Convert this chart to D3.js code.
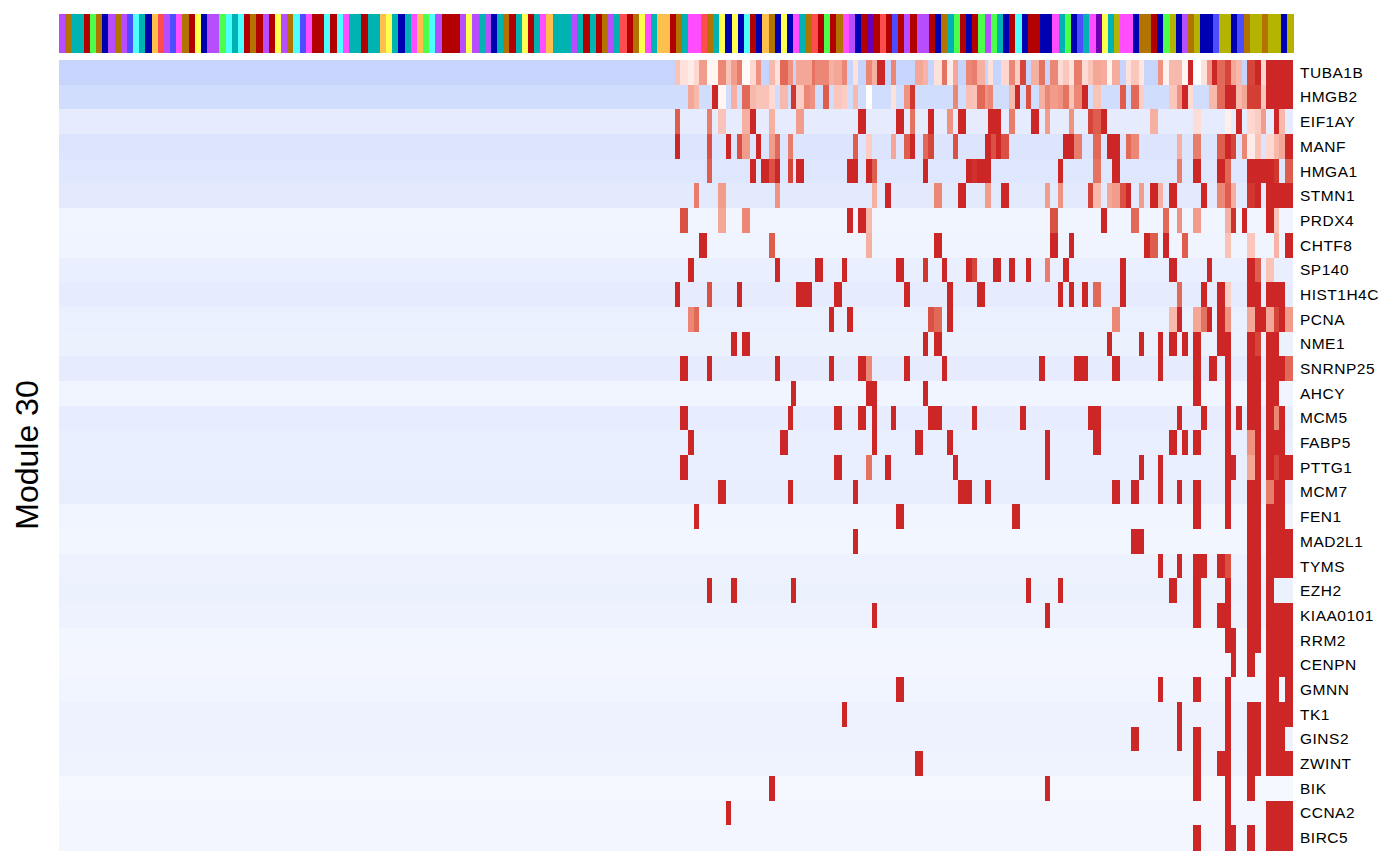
<!DOCTYPE html>
<html>
<head>
<meta charset="utf-8">
<script src="https://cdn.jsdelivr.net/npm/d3@7/dist/d3.min.js"></script>
<style>
body { margin: 0; background: #fff; }
text { font-family: "Liberation Sans", Arial, sans-serif; fill: #000; }
rect { shape-rendering: crispEdges; }
</style>
</head>
<body>
<svg width="1400" height="865"></svg>
<script>
var genes = ["TUBA1B","HMGB2","EIF1AY","MANF","HMGA1","STMN1","PRDX4","CHTF8","SP140","HIST1H4C","PCNA","NME1","SNRNP25","AHCY","MCM5","FABP5","PTTG1","MCM7","FEN1","MAD2L1","TYMS","EZH2","KIAA0101","RRM2","CENPN","GMNN","TK1","GINS2","ZWINT","BIK","CCNA2","BIRC5"];

// level of the quiet cells in each row
var baseLevel = [-.22,-.18,-.1,-.135,-.125,-.11,-.055,-.06,-.085,-.1,-.08,-.075,-.1,-.055,-.095,-.085,-.085,-.09,-.055,-.05,-.07,-.075,-.07,-.05,-.045,-.055,-.07,-.07,-.065,-.035,-.045,-.045];

// runs of samples per gene: [first sample, end sample, level]
var TUBA1B = [[228,230,.3],[230,233,.15],[233,235,.1],[235,237,.2],[237,240,.5],[240,244,.05],[244,247,.6],[247,249,.3],[249,251,.5],[251,253,.65],[253,256,.03],[256,258,.2],[258,260,.55],[263,265,.35],[265,267,.15],[267,270,.75],[270,272,.55],[273,279,.45],[279,280,.7],[280,285,.6],[285,287,.4],[287,290,.45],[290,292,.6],[294,296,.15],[299,301,.6],[301,303,.4],[303,306,1],[308,310,.6],[317,320,.45],[320,322,.38],[324,327,.15],[327,329,.7],[329,331,.1],[331,333,.45],[336,338,.6],[338,340,.65],[340,343,.4],[344,346,.15],[349,352,.2],[352,354,.6],[354,356,.25],[356,358,.9],[360,363,.4],[363,365,.7],[367,370,.6],[370,372,.18],[372,374,.28],[374,376,.15],[376,379,.65],[379,381,.18],[381,383,.3],[383,386,.45],[386,388,.42],[388,390,.06],[390,393,.42],[395,397,.15],[397,400,.28],[400,402,.12],[407,409,.55],[409,411,.07],[411,416,.35],[416,418,.05],[418,420,1],[420,423,0],[423,425,.15],[425,427,.55],[427,429,1],[429,432,.75],[432,434,.9],[434,436,.45],[436,438,.35],[440,443,.9],[443,445,1],[445,447,.2],[447,457,1]];
var HMGB2 = [[233,235,.45],[235,237,.35],[242,244,1],[244,247,.05],[249,251,.4],[253,256,.75],[256,258,.35],[258,263,.3],[263,265,.18],[267,270,.35],[271,273,.95],[273,276,.25],[276,278,.6],[278,280,.55],[283,285,.8],[287,290,.28],[290,292,.25],[294,296,.35],[299,301,0],[308,310,.15],[313,315,.55],[315,317,.95],[331,333,.6],[336,338,.32],[338,340,.3],[340,343,.75],[343,344,.55],[344,346,.6],[352,354,.35],[354,356,1],[358,360,.85],[363,365,.4],[365,367,.6],[367,370,.5],[370,372,.55],[372,374,.7],[374,376,.3],[376,379,.6],[379,381,1],[383,386,.3],[393,395,.8],[397,400,.75],[400,402,.25],[411,414,.28],[414,416,.55],[416,418,1],[418,420,.18],[426,429,.35],[429,432,.75],[432,436,1],[436,438,.35],[438,440,.45],[440,445,.92],[445,447,.28],[447,457,1]];
var EIF1AY = [[228,230,.8],[240,242,.65],[244,247,.3],[253,256,.4],[256,258,1],[263,265,.4],[273,276,.5],[296,299,1],[310,313,1],[315,317,.7],[322,324,1],[329,331,.55],[333,336,1],[344,349,1],[352,354,.65],[360,363,1],[365,367,.5],[374,376,.55],[381,383,.9],[383,386,.8],[386,388,1],[404,407,.4],[420,423,.17],[432,434,.08],[436,438,1],[440,443,.2],[443,445,.25],[445,447,.5],[450,452,1],[452,454,.35]];
var MANF = [[228,230,1],[240,242,.85],[247,249,1],[251,253,.85],[253,256,.5],[258,260,1],[263,265,.5],[265,267,.75],[270,272,.65],[294,296,.8],[299,301,.25],[308,310,.45],[313,315,.8],[315,317,1],[320,322,.75],[322,324,.9],[331,333,.85],[343,345,1],[345,347,.85],[347,349,1],[349,352,.85],[372,376,1],[376,379,.65],[383,386,.75],[388,393,1],[395,397,.75],[397,400,.6],[414,416,.4],[420,423,.65],[429,432,.8],[432,434,1],[434,436,.9],[438,440,.6],[440,443,.1],[443,445,.3],[447,450,.2],[450,452,.35],[452,454,.45],[454,457,1]];
var HMGA1 = [[240,242,.8],[256,258,1],[260,263,1],[263,265,.85],[265,267,1],[270,272,.9],[273,276,1],[292,296,1],[299,301,1],[301,303,.8],[320,322,1],[336,338,1],[338,340,.97],[340,345,1],[370,372,1],[383,386,.7],[390,393,1],[414,416,.65],[420,423,1],[429,432,1],[432,434,.75],[440,450,1],[450,452,.95],[454,457,.8]];
var STMN1 = [[235,237,.65],[244,247,.5],[265,267,.55],[301,303,.4],[306,308,1],[324,327,.6],[333,336,1],[343,345,.5],[349,352,1],[365,367,.5],[370,372,.55],[381,383,.9],[383,386,.35],[388,390,.45],[390,393,.5],[393,395,.85],[395,397,1],[400,402,.5],[404,407,1],[407,409,.4],[411,414,1],[423,425,1],[429,432,.6],[432,434,.8],[434,436,.4],[440,443,.95],[443,445,1],[447,457,1]];
var PRDX4 = [[230,233,.85],[244,247,.45],[253,256,.6],[292,294,1],[296,299,1],[299,301,.35],[367,370,.85],[386,388,1],[397,400,.75],[409,411,.75],[414,416,.55],[420,423,.5],[432,434,.4],[434,436,.97],[438,440,1],[447,450,1],[450,452,.3]];
var CHTF8 = [[237,240,1],[263,265,.8],[299,301,.4],[324,327,1],[367,370,1],[374,376,1],[402,404,1],[404,407,.8],[409,411,1],[416,418,.8],[432,434,.3],[440,443,.28],[450,452,.38],[454,457,1]];
var SP140 = [[233,235,1],[265,267,1],[280,283,1],[290,292,1],[310,313,1],[320,322,.95],[327,329,1],[336,338,1],[338,340,.9],[346,349,1],[352,354,1],[358,360,1],[365,367,.65],[372,374,1],[393,395,1],[411,414,1],[425,427,1],[440,443,1],[443,445,.8],[447,450,.3]];
var HIST1H4C = [[228,230,1],[240,242,.85],[251,253,1],[273,279,1],[287,290,1],[313,315,1],[329,331,1],[340,343,1],[370,372,1],[374,376,1],[379,381,1],[383,386,.75],[393,395,1],[414,416,.75],[423,425,1],[429,432,1],[432,434,.25],[440,445,1],[447,454,1]];
var PCNA = [[233,235,.6],[235,237,.75],[285,287,1],[292,294,1],[322,324,.85],[324,327,.75],[329,331,1],[390,393,.6],[411,414,.35],[414,416,1],[420,423,.45],[423,425,.7],[425,427,1],[429,432,1],[432,434,.55],[440,443,.45],[443,447,1],[447,450,.45],[450,452,.9],[452,454,1],[454,457,.5]];
var NME1 = [[249,251,1],[253,256,1],[320,322,1],[324,327,1],[388,390,1],[400,402,1],[407,409,1],[411,414,1],[416,418,1],[420,423,1],[429,434,1],[440,443,1],[443,445,.9],[447,452,1]];
var SNRNP25 = [[230,233,1],[240,242,1],[265,267,1],[285,287,1],[296,299,1],[299,301,.6],[313,315,1],[327,329,1],[363,365,1],[376,381,1],[390,393,1],[407,409,1],[420,423,1],[426,429,1],[432,434,1],[440,445,1],[447,454,1],[454,457,.75]];
var AHCY = [[271,273,1],[299,303,1],[320,322,1],[420,423,1],[432,434,1],[440,445,1],[447,452,1]];
var MCM5 = [[230,233,1],[270,272,1],[287,290,1],[296,299,1],[301,303,1],[308,310,1],[322,327,1],[338,340,1],[356,358,1],[381,386,1],[414,416,1],[423,425,1],[432,434,1],[436,438,1],[440,445,1],[447,450,1],[450,452,.6],[452,454,1]];
var FABP5 = [[233,235,1],[267,270,1],[301,303,1],[317,320,1],[329,331,1],[365,367,1],[383,386,1],[411,414,1],[416,418,1],[420,423,1],[432,434,1],[440,443,.55],[443,445,1],[447,454,1]];
var PTTG1 = [[230,233,1],[287,290,1],[299,301,.7],[306,308,1],[331,333,1],[365,367,1],[400,402,1],[407,409,1],[432,436,1],[440,443,.45],[443,445,1],[447,450,1],[450,452,.9],[452,457,1]];
var MCM7 = [[244,247,1],[270,272,1],[294,296,1],[333,338,1],[343,345,1],[390,393,1],[397,400,1],[407,409,1],[414,416,1],[420,423,1],[432,434,1],[440,445,1],[447,450,.65],[450,454,1]];
var FEN1 = [[235,237,1],[310,313,1],[353,356,1],[420,423,1],[432,434,1],[440,445,1],[447,454,1]];
var MAD2L1 = [[294,296,1],[397,402,1],[440,445,1],[447,457,1]];
var TYMS = [[407,409,1],[414,416,1],[420,425,1],[429,432,1],[432,434,.85],[440,445,1],[447,457,1]];
var EZH2 = [[240,242,1],[249,251,1],[271,273,1],[358,360,1],[370,372,1],[411,414,1],[420,423,1],[432,434,1],[440,445,1],[447,450,1]];
var KIAA0101 = [[301,303,1],[365,367,1],[420,423,1],[429,434,1],[440,445,1],[447,457,1]];
var RRM2 = [[432,436,1],[440,445,1],[447,457,1]];
var CENPN = [[434,436,1],[440,443,1],[447,457,1]];
var GMNN = [[310,313,1],[407,409,1],[420,423,1],[432,434,1],[447,452,1],[454,457,1]];
var TK1 = [[290,292,1],[414,416,1],[432,434,1],[440,445,1],[447,457,1]];
var GINS2 = [[397,400,1],[414,416,1],[420,423,1],[432,434,1],[440,445,1],[447,454,1]];
var ZWINT = [[317,320,1],[420,423,1],[429,434,1],[440,445,1],[447,457,1]];
var BIK = [[263,265,1],[365,367,1],[420,423,1],[432,434,1],[440,443,1]];
var CCNA2 = [[247,249,1],[432,434,1],[447,457,1]];
var BIRC5 = [[420,423,1],[432,436,1],[440,443,1],[447,457,1]];

var geneRuns = [TUBA1B,HMGB2,EIF1AY,MANF,HMGA1,STMN1,PRDX4,CHTF8,SP140,HIST1H4C,PCNA,NME1,SNRNP25,AHCY,MCM5,FABP5,PTTG1,MCM7,FEN1,MAD2L1,TYMS,EZH2,KIAA0101,RRM2,CENPN,GMNN,TK1,GINS2,ZWINT,BIK,CCNA2,BIRC5];
var sampleCount = 457;

// top annotation, one group per bin
var topGroups = ("p b t t r g b n p b p u c t n o s p u m b r y n p p g c t c r b r p r y p b c u m r r c r c m t t r t " +
  "t o y t n t m o g c p r r r p y p t p n t b r t y r t m o t t t p t r t r b p t s r b y m t o o r b t " +
  "m m s b t y n y n c r n o b n y n m t b s r g r b m p n r v r s r u r p r p p r n b t g r n r g p " +
  "g t n r c n r r n n m t g n u t m v y t l m m n b b r n g l n p b l n n u l l n u b l l b l l n l").split(" ");
var groupKeys = ["p","b","t","r","g","n","c","u","o","s","y","m","l","v"];
var groupColors = ["#b84dff","#b37300","#00b3b3","#b30000","#4dff4d","#0000b3","#4dffff","#4d4dff","#ffbf4d","#ff4d4d","#ffff4d","#ff4dff","#b3b300","#6b00b3"];

var svg = d3.select("svg");

// blue side stays linear, the red side goes through lab like the salmon mid tones
var colorLow = d3.scaleLinear().domain([-1, 0]).range(["#0041f6", "#ffffff"]);
var colorHigh = d3.scaleLinear().domain([0, 1]).range(["#ffffff", "#cd2626"]).interpolate(d3.interpolateLab);
function color(v) { return v < 0 ? colorLow(v) : colorHigh(v); }
var groupColor = d3.scaleOrdinal().domain(groupKeys).range(groupColors);

var xTop = d3.scaleBand().domain(d3.range(topGroups.length)).range([59, 1293]);
var x = d3.scaleLinear().domain([0, sampleCount]).range([59, 1293]);
var y = d3.scaleBand().domain(genes).range([60, 850]);

svg.append("g").selectAll("rect")
  .data(topGroups)
  .join("rect")
  .attr("x", (d, i) => xTop(i))
  .attr("y", 14)
  .attr("width", xTop.bandwidth() + 0.5)
  .attr("height", 39)
  .attr("fill", d => groupColor(d));

var rows = svg.append("g").selectAll("g")
  .data(genes)
  .join("g");

rows.append("rect")
  .attr("x", x(0))
  .attr("y", d => y(d))
  .attr("width", x(sampleCount) - x(0))
  .attr("height", y.bandwidth() + 0.5)
  .attr("fill", (d, i) => color(baseLevel[i]));

rows.selectAll(".run")
  .data((d, i) => geneRuns[i].map(r => ({gene: d, start: r[0], end: r[1], level: r[2]})))
  .join("rect")
  .attr("class", "run")
  .attr("x", d => x(d.start))
  .attr("y", d => y(d.gene))
  .attr("width", d => x(d.end) - x(d.start))
  .attr("height", y.bandwidth() + 0.5)
  .attr("fill", d => color(d.level));

rows.append("text")
  .attr("x", 1300)
  .attr("y", d => y(d) + y.bandwidth() / 2)
  .attr("dy", "0.35em")
  .attr("font-size", 15.5)
  .attr("letter-spacing", 0.5)
  .text(d => d);

svg.append("text")
  .attr("transform", "translate(38,455) rotate(-90)")
  .attr("text-anchor", "middle")
  .attr("font-size", 32)
  .text("Module 30");
</script>
</body>
</html>
